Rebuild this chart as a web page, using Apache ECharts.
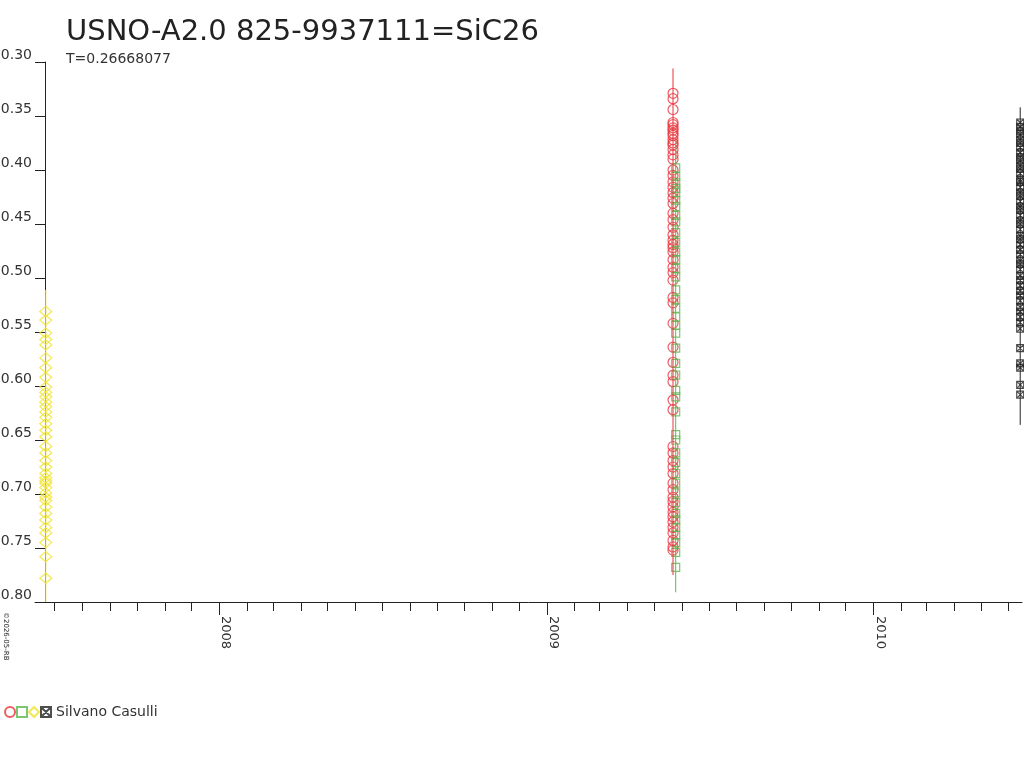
<!DOCTYPE html>
<html>
<head>
<meta charset="utf-8">
<script src="https://cdn.jsdelivr.net/npm/echarts@6/dist/echarts.min.js"></script>
<style>html,body{margin:0;padding:0;background:#fff}#c{width:1024px;height:768px}</style>
</head>
<body>
<div id="c"></div>
<script>
// ---- data ----
const titleText = 'USNO-A2.0 825-9937111=SiC26';
const subText = 'T=0.26668077';
const observer = 'Silvano Casulli';
const yearLabels = ['2008', '2009', '2010'];
const axisStart = '2007-06-09';
const axisEnd = '2010-06-16';

const yellowDate = '2007-06-21';
const yellowValues = [0.531, 0.539, 0.551, 0.557, 0.562, 0.574, 0.583, 0.592, 0.601, 0.606, 0.610, 0.615, 0.619,
  0.624, 0.629, 0.635, 0.641, 0.647, 0.656, 0.662, 0.669, 0.675, 0.681, 0.685, 0.688, 0.690, 0.694, 0.699,
  0.703, 0.706, 0.712, 0.718, 0.724, 0.731, 0.736, 0.745, 0.758, 0.778];
const yellowLine = [0.511, 0.80];

const redDate = '2009-05-22';
const redValues = [0.329, 0.334, 0.344, 0.356, 0.358, 0.361, 0.363, 0.366, 0.368, 0.372, 0.375, 0.377, 0.381,
  0.386, 0.390, 0.400, 0.405, 0.411, 0.416, 0.421, 0.426, 0.431, 0.440, 0.446, 0.453, 0.460, 0.465, 0.469,
  0.472, 0.476, 0.483, 0.490, 0.495, 0.502, 0.518, 0.523, 0.542, 0.564, 0.578, 0.590, 0.596, 0.613, 0.622,
  0.656, 0.662, 0.669, 0.675, 0.681, 0.690, 0.696, 0.703, 0.707, 0.712, 0.717, 0.721, 0.726, 0.731, 0.736,
  0.743, 0.749, 0.752];
const redLine = [0.306, 0.775];

const greenDate = '2009-05-25';
const greenValues = [0.398, 0.406, 0.412, 0.417, 0.421, 0.428, 0.434, 0.442, 0.448, 0.458, 0.467, 0.476, 0.483,
  0.491, 0.499, 0.511, 0.520, 0.528, 0.536, 0.544, 0.551, 0.565, 0.579, 0.590, 0.604, 0.610, 0.624, 0.645,
  0.650, 0.662, 0.671, 0.681, 0.690, 0.699, 0.708, 0.718, 0.724, 0.731, 0.738, 0.745, 0.754, 0.768];
const greenLine = [0.372, 0.791];

const blackDate = '2010-06-14';
const blackValues = [0.356, 0.360, 0.364, 0.367, 0.372, 0.375, 0.379, 0.384, 0.388, 0.391, 0.396, 0.399, 0.403,
  0.409, 0.411, 0.416, 0.421, 0.424, 0.429, 0.434, 0.437, 0.442, 0.447, 0.450, 0.455, 0.461, 0.464, 0.469,
  0.474, 0.478, 0.484, 0.487, 0.492, 0.498, 0.502, 0.507, 0.512, 0.516, 0.521, 0.527, 0.531, 0.536, 0.541,
  0.547, 0.565, 0.579, 0.583, 0.599, 0.608];
const blackLine = [0.342, 0.636];

// ---- helpers ----
const ts = s => { const [y, m, d] = s.split('-').map(Number); return Date.UTC(y, m - 1, d); };
const pts = (date, vals) => vals.map(v => [ts(date), v]);
const vline = (date, r) => r.map(v => [ts(date), v]);

const yearTicks = yearLabels.map(y => Date.UTC(+y, 0, 1));
const monthTicks = [];
for (let y = 2007; y <= 2010; y++) for (let m = 0; m < 12; m++) {
  const t = Date.UTC(y, m, 1);
  if (t >= ts(axisStart) && t <= ts(axisEnd)) monthTicks.push(t);
}

const FONT = 'DejaVu Sans';
const AX = '#222';
const RED = '#e8343c', GREEN = '#5cb84c', YELLOW = '#f0e228', BLACK = '#222';
const hollow = c => ({ color: 'rgba(0,0,0,0)', borderColor: c, borderWidth: 1.2 });
const xbox = 'path://M0,0H10V10H0ZM0,0L10,10M10,0L0,10';

const chart = echarts.init(document.getElementById('c'), null, { renderer: 'canvas' });
chart.setOption({
  animation: false,
  backgroundColor: '#fff',
  textStyle: { fontFamily: FONT },
  title: [
    { text: titleText, left: 66, top: 18, padding: 0, textStyle: { fontFamily: FONT, fontSize: 29, fontWeight: 'normal', color: '#222' } },
    { text: subText, left: 66, top: 52, padding: 0, textStyle: { fontFamily: FONT, fontSize: 14, fontWeight: 'normal', color: '#333' } }
  ],
  grid: { left: 35, right: 2, top: 62, bottom: 166, containLabel: false, outerBoundsMode: 'none' },
  xAxis: [
    {
      type: 'value', min: ts(axisStart), max: ts(axisEnd),
      axisLine: { lineStyle: { color: AX, width: 1 } },
      axisTick: { show: true, length: 9, lineStyle: { color: AX }, customValues: monthTicks },
      axisLabel: { show: false },
      splitLine: { show: false }
    },
    {
      type: 'value', min: ts(axisStart), max: ts(axisEnd), position: 'bottom',
      axisLine: { show: false },
      axisTick: { show: true, length: 13, lineStyle: { color: AX }, customValues: yearTicks },
      axisLabel: {
        show: true, customValues: yearTicks, rotate: -90, margin: 14,
        align: 'left', verticalAlign: 'bottom',
        fontFamily: FONT, fontSize: 13, color: '#333',
        formatter: v => String(new Date(v).getUTCFullYear())
      },
      splitLine: { show: false }
    }
  ],
  yAxis: {
    type: 'value', inverse: true, min: 0.30, max: 0.80, interval: 0.05, offset: -10,
    axisLine: { show: true, lineStyle: { color: AX, width: 1 } },
    axisTick: { show: true, length: 10, lineStyle: { color: AX } },
    axisLabel: { margin: 13, fontFamily: FONT, fontSize: 14, color: '#333', verticalAlign: 'bottom',
      formatter: v => v.toFixed(2) },
    splitLine: { show: false }
  },
  legend: {
    left: 4, top: 705, padding: 0, itemWidth: 10, itemHeight: 10, itemGap: 0,
    data: ['red', 'green', 'yellow', 'black'],
    formatter: n => (n === 'black' ? observer : ''),
    textStyle: { fontFamily: FONT, fontSize: 14, color: '#333' },
    selectedMode: false
  },
  series: [
    { name: 'yline', type: 'line', data: vline(yellowDate, yellowLine), symbol: 'none', lineStyle: { color: YELLOW, width: 1 }, silent: true },
    { name: 'rline', type: 'line', data: vline(redDate, redLine), symbol: 'none', lineStyle: { color: RED, width: 1 }, silent: true },
    { name: 'gline', type: 'line', data: vline(greenDate, greenLine), symbol: 'none', lineStyle: { color: GREEN, width: 1 }, silent: true },
    { name: 'bline', type: 'line', data: vline(blackDate, blackLine), symbol: 'none', lineStyle: { color: BLACK, width: 1 }, silent: true },
    { name: 'yellow', type: 'scatter', data: pts(yellowDate, yellowValues), symbol: 'diamond', symbolSize: [12, 10], itemStyle: hollow(YELLOW) },
    { name: 'red', type: 'scatter', data: pts(redDate, redValues), symbol: 'circle', symbolSize: 10, itemStyle: hollow(RED) },
    { name: 'green', type: 'scatter', data: pts(greenDate, greenValues), symbol: 'rect', symbolSize: 8, itemStyle: hollow(GREEN) },
    { name: 'black', type: 'scatter', data: pts(blackDate, blackValues), symbol: xbox, symbolSize: 7, itemStyle: hollow(BLACK) }
  ],
  graphic: [
    { type: 'text', x: 9, y: 612, rotation: -Math.PI / 2, style: { text: '©2026-05-RB', font: '7px ' + FONT, fill: '#222' } }
  ]
});
</script>
</body>
</html>
